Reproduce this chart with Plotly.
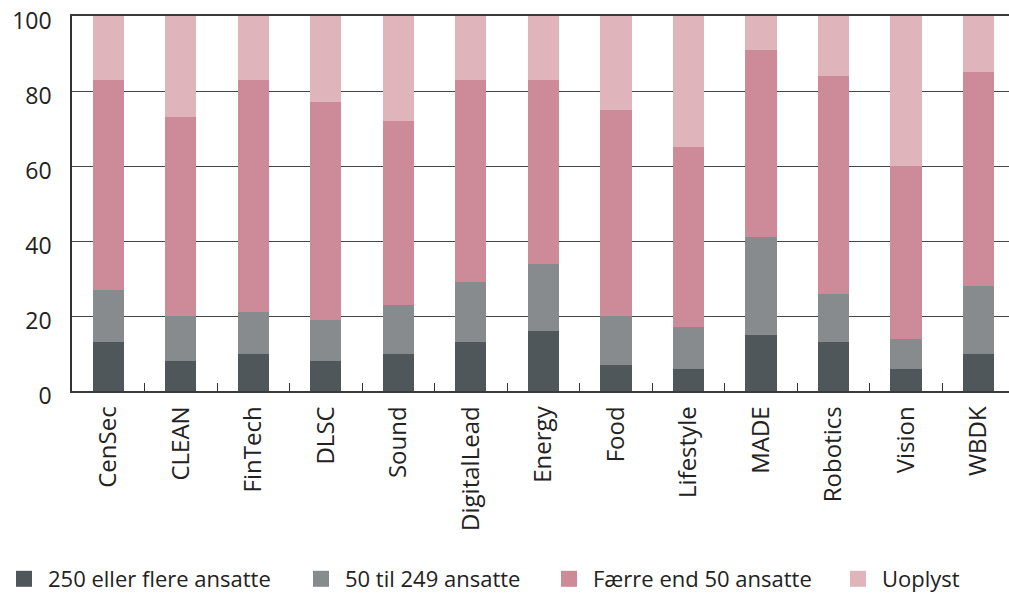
import plotly.graph_objects as go

categories = ["CenSec", "CLEAN", "FinTech", "DLSC", "Sound", "DigitalLead", "Energy",
              "Food", "Lifestyle", "MADE", "Robotics", "Vision", "WBDK"]
large = [13, 8, 10, 8, 10, 13, 16, 7, 6, 15, 13, 6, 10]
medium = [14, 12, 11, 11, 13, 16, 18, 13, 11, 26, 13, 8, 18]
small = [56, 53, 62, 58, 49, 54, 49, 55, 48, 50, 58, 46, 57]
unknown = [17, 27, 17, 23, 28, 17, 17, 25, 35, 9, 16, 40, 15]

series_names = ["250 eller flere ansatte", "50 til 249 ansatte", "Færre end 50 ansatte", "Uoplyst"]
series_values = [large, medium, small, unknown]
colors = ["#4f575a", "#888b8e", "#cd8b99", "#e0b4bb"]
legend_x_px = [0, 297, 545, 834]

FONT = "Open Sans"
fig = go.Figure()
for i, (name, vals, col) in enumerate(zip(series_names, series_values, colors)):
    lg = "legend" if i == 0 else f"legend{i+1}"
    fig.add_trace(go.Bar(x=categories, y=vals, name=name, marker_color=col,
                         marker_line_width=0, width=0.43, legend=lg, legendgroup=name,
                         showlegend=False))
    fig.add_trace(go.Scatter(x=[None], y=[None], mode="markers", name=name, legend=lg,
                             legendgroup=name,
                             marker=dict(symbol="square", size=22, color=col, line_width=0)))

layout_legends = {}
for i, lx in enumerate(legend_x_px):
    key = "legend" if i == 0 else f"legend{i+1}"
    layout_legends[key] = dict(xref="container", yref="container", x=lx / 1009, y=1 - 579 / 595,
                               xanchor="left", yanchor="middle", itemwidth=38,
                               orientation="h", font=dict(family=FONT, size=22, color="#222"),
                               bgcolor="rgba(0,0,0,0)")

fig.update_layout(
    barmode="stack",
    width=1009, height=595,
    margin=dict(l=72, r=0, t=16, b=204, autoexpand=False),
    paper_bgcolor="white", plot_bgcolor="white",
    font=dict(family=FONT, size=18, color="#222"),
    **layout_legends,
)
fig.update_xaxes(range=[-0.5, 12.42], tickangle=-90, showline=True, linecolor="#3a3a3a",
                 linewidth=1.5, mirror=True,
                 ticks="inside", tickson="boundaries", ticklen=8, tickcolor="#333",
                 ticklabelstandoff=4, automargin=False,
                 tickfont=dict(family=FONT, size=24, color="#222"), showgrid=False)
fig.update_yaxes(range=[0, 100], tickvals=[0, 20, 40, 60, 80, 100], showline=True,
                 linecolor="#333", linewidth=1.5,
                 showgrid=True, gridcolor="#444", gridwidth=1, zeroline=False,
                 ticks="", ticklabelstandoff=14, ticklabelshift=5, ticklabeloverflow="allow",
                 automargin=False,
                 tickfont=dict(family=FONT, size=23, color="#222"))

fig.write_html("out.html", config={"displayModeBar": False},
               post_script="document.body.style.margin='0';document.body.style.padding='0';")
